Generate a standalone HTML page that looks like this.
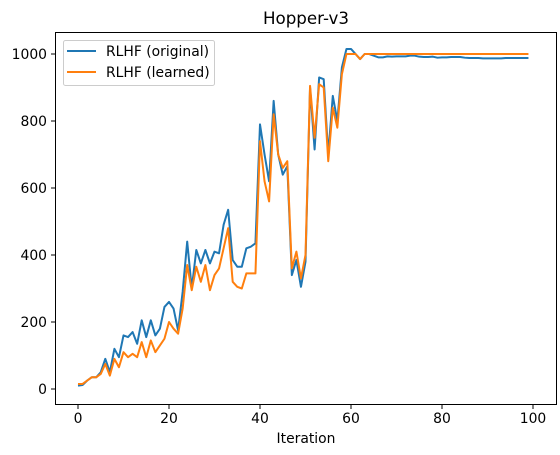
<!DOCTYPE html>
<html><head><meta charset="utf-8"><style>
body{margin:0;background:#fff}
svg{display:block;font-family:"DejaVu Sans","Liberation Sans",sans-serif}
</style></head><body>
<svg id="c" width="560" height="455">
<rect x="0" y="0" width="560" height="455" fill="#fff"/>
<text x="306" y="24" text-anchor="middle" font-size="16.7">Hopper-v3</text>
<g id="axes"></g>
<g id="lines"></g>
<rect x="55.5" y="32.5" width="501" height="372" fill="none" stroke="#000" stroke-width="1"/>
<g>
<rect x="63.5" y="40.5" width="151" height="45" rx="2" fill="#fff" fill-opacity="0.8" stroke="#ccc"/>
<line x1="67" y1="51" x2="96" y2="51" stroke="#1f77b4" stroke-width="2"/>
<text x="106" y="56" font-size="13.9">RLHF (original)</text>
<line x1="67" y1="72" x2="96" y2="72" stroke="#ff7f0e" stroke-width="2"/>
<text x="106" y="77" font-size="13.9">RLHF (learned)</text>
</g>
<text x="306" y="443" text-anchor="middle" font-size="13.9">Iteration</text>
</svg>
<script>
const original=[10,12,25,35,35,50,90,50,120,95,160,155,170,135,205,155,205,160,180,245,260,240,175,290,440,300,415,375,415,375,410,405,490,535,385,365,365,420,425,435,790,700,620,860,700,640,665,340,385,305,380,900,715,930,925,700,875,800,960,1015,1015,1000,985,1000,1000,995,990,990,993,992,993,993,993,995,995,992,991,991,992,989,990,990,991,991,991,989,988,988,988,987,987,987,987,987,988,988,988,988,988,988];
const learned=[15,15,25,35,35,45,75,40,90,65,110,95,105,95,140,95,145,110,130,150,200,180,165,240,370,295,365,320,370,295,340,360,420,480,320,305,300,345,345,345,740,620,560,820,700,660,680,360,410,330,400,905,750,910,900,680,840,780,940,1000,1000,1000,985,1000,1000,1000,1000,1000,1000,1000,1000,1000,1000,1000,1000,1000,1000,1000,1000,1000,1000,1000,1000,1000,1000,1000,1000,1000,1000,1000,1000,1000,1000,1000,1000,1000,1000,1000,1000,1000];
const xTicks=[0,20,40,60,80,100];
const yTicks=[0,200,400,600,800,1000];
const X=v=>78+v*4.55;
const Y=v=>389-v*0.335;
const NS="http://www.w3.org/2000/svg";
const ax=document.getElementById('axes'), ln=document.getElementById('lines');
xTicks.forEach(t=>{
  const l=document.createElementNS(NS,'line');
  l.setAttribute('x1',X(t));l.setAttribute('x2',X(t));l.setAttribute('y1',405);l.setAttribute('y2',409);l.setAttribute('stroke','#000');
  
  
  ax.appendChild(l);
  const s=document.createElementNS(NS,'text');
  s.setAttribute('x',X(t));s.setAttribute('y',423);s.setAttribute('text-anchor','middle');s.setAttribute('font-size','13.9');s.textContent=t;
  
  
  ax.appendChild(s);
});
yTicks.forEach(t=>{
  const l=document.createElementNS(NS,'line');
  l.setAttribute('x1',51);l.setAttribute('x2',55.5);l.setAttribute('y1',Y(t));l.setAttribute('y2',Y(t));l.setAttribute('stroke','#000');
  
  
  ax.appendChild(l);
  const s=document.createElementNS(NS,'text');
  s.setAttribute('x',47);s.setAttribute('y',Y(t)+5);s.setAttribute('text-anchor','end');s.setAttribute('font-size','13.9');s.textContent=t;
  
  
  ax.appendChild(s);
});
function line(arr,color,name){
  const p=document.createElementNS(NS,'polyline');
  p.setAttribute('points',arr.map((v,i)=>X(i).toFixed(2)+','+Y(v).toFixed(2)).join(' '));
  p.setAttribute('fill','none');p.setAttribute('stroke',color);p.setAttribute('stroke-width','2');p.setAttribute('stroke-linejoin','round');
  
  
  ln.appendChild(p);
}
line(original,'#1f77b4','series-original');
line(learned,'#ff7f0e','series-learned');
</script>
</body></html>
